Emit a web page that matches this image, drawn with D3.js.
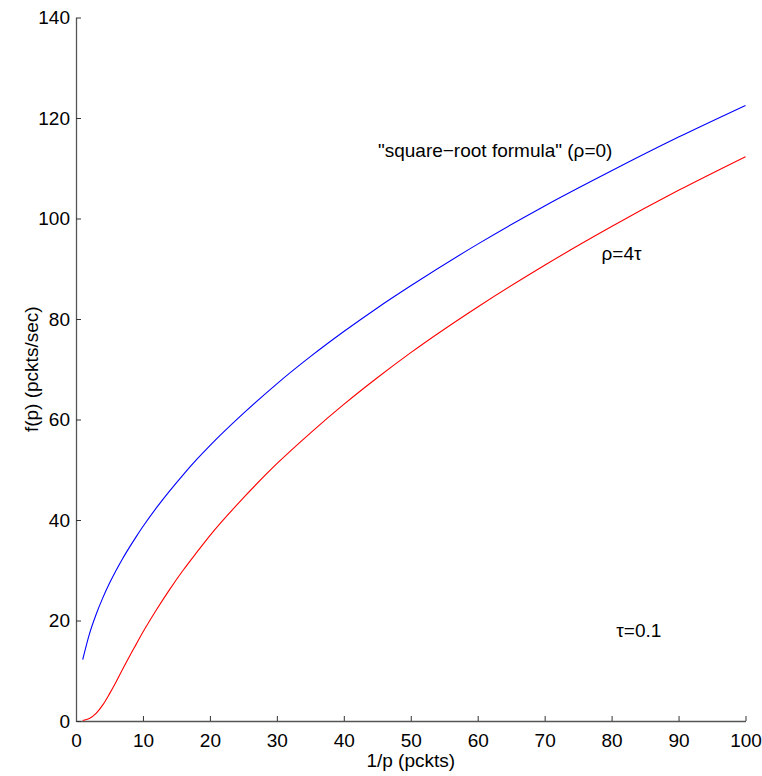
<!DOCTYPE html>
<html>
<head>
<meta charset="utf-8">
<script src="https://cdn.jsdelivr.net/npm/d3@7"></script>
<style>
  body { margin: 0; background: #fff; }
  text { font-family: "Liberation Sans", Arial, sans-serif; }
</style>
</head>
<body>
<div id="chart"></div>
<script>
// Values
var xValues   = [1, 2, 3, 4, 5, 6, 7, 8, 9, 10, 12, 14, 16, 18, 20, 25, 30, 35, 40, 45, 50, 60, 70, 80, 90, 100];
var sqrtRoot  = [12.2, 17.3, 21.2, 24.5, 27.4, 30.0, 32.4, 34.6, 36.7, 38.7, 42.4, 45.8, 49.0, 52.0, 54.8, 61.2, 67.1, 72.5, 77.5, 82.2, 86.6, 94.9, 102.5, 109.5, 116.2, 122.5];
var rho4tau   = [0.1, 0.5, 1.5, 3.2, 5.4, 7.8, 10.4, 12.9, 15.3, 17.7, 22.1, 26.2, 30.0, 33.5, 36.9, 44.4, 51.2, 57.3, 63.0, 68.3, 73.3, 82.4, 90.7, 98.4, 105.6, 112.3];
var xTicks    = [0, 10, 20, 30, 40, 50, 60, 70, 80, 90, 100];
var yTicks    = [0, 20, 40, 60, 80, 100, 120, 140];

const width = 762;
const height = 776;
var margin = {top: 17.5, right: 16.5, bottom: 55, left: 76};

var plotWidth = width - margin.left - margin.right;
var plotHeight = height - margin.top - margin.bottom;

var svg = d3.select("#chart")
            .append("svg")
                .attr("width", width)
                .attr("height", height)
            .append("g")
                .attr("transform", "translate(" + margin.left + "," + margin.top + ")");

var scaleX = d3.scaleLinear().domain([0, 100]).range([0, plotWidth]);
var scaleY = d3.scaleLinear().domain([0, 140]).range([plotHeight, 0]);

// Axes (ticks point inward, no box)
var axisX = svg.append("g")
    .attr("transform", "translate(0," + plotHeight + ")")
    .call(d3.axisBottom(scaleX).tickValues(xTicks).tickSizeInner(-5).tickSizeOuter(0).tickPadding(13));

var axisY = svg.append("g")
    .call(d3.axisLeft(scaleY).tickValues(yTicks).tickSizeInner(-5).tickSizeOuter(0).tickPadding(6));

[axisX, axisY].forEach(function(a) {
    a.select(".domain").attr("stroke", "#555").attr("stroke-width", 1.3);
    a.selectAll(".tick line").attr("stroke", "#333");
    a.selectAll(".tick text")
        .attr("fill", "#000")
        .style("font-size", "19px")
        .style("font-family", "'Liberation Sans', Arial, sans-serif");
});

// Curves
var pts1 = xValues.map(function(x, i) { return [x, sqrtRoot[i]]; });
var pts2 = xValues.map(function(x, i) { return [x, rho4tau[i]]; });

var line = d3.line()
    .x(function(d) { return scaleX(d[0]); })
    .y(function(d) { return scaleY(d[1]); })
    .curve(d3.curveMonotoneX);

svg.append("path").datum(pts1)
    .attr("fill", "none").attr("stroke", "#0000ff").attr("stroke-width", 1.1)
    .attr("d", line);

svg.append("path").datum(pts2)
    .attr("fill", "none").attr("stroke", "#ff0000").attr("stroke-width", 1.1)
    .attr("d", line);

// Annotations
svg.append("text")
    .attr("x", scaleX(45.1)).attr("y", scaleY(112.2))
    .style("font-size", "19px")
    .text("\"square\u2212root formula\" (\u03c1=0)");

svg.append("text")
    .attr("x", scaleX(78.5)).attr("y", scaleY(91.7))
    .style("font-size", "19px")
    .text("\u03c1=4\u03c4");

svg.append("text")
    .attr("x", scaleX(80.7)).attr("y", scaleY(16.7))
    .style("font-size", "19px")
    .text("\u03c4=0.1");

// Axis labels
svg.append("text")
    .attr("x", plotWidth / 2).attr("y", plotHeight + 46)
    .style("text-anchor", "middle")
    .style("font-size", "19px")
    .text("1/p (pckts)");

svg.append("text")
    .attr("transform", "rotate(-90)")
    .attr("x", -(plotHeight / 2)).attr("y", -38)
    .style("text-anchor", "middle")
    .style("font-size", "19px")
    .text("f(p) (pckts/sec)");
</script>
</body>
</html>
